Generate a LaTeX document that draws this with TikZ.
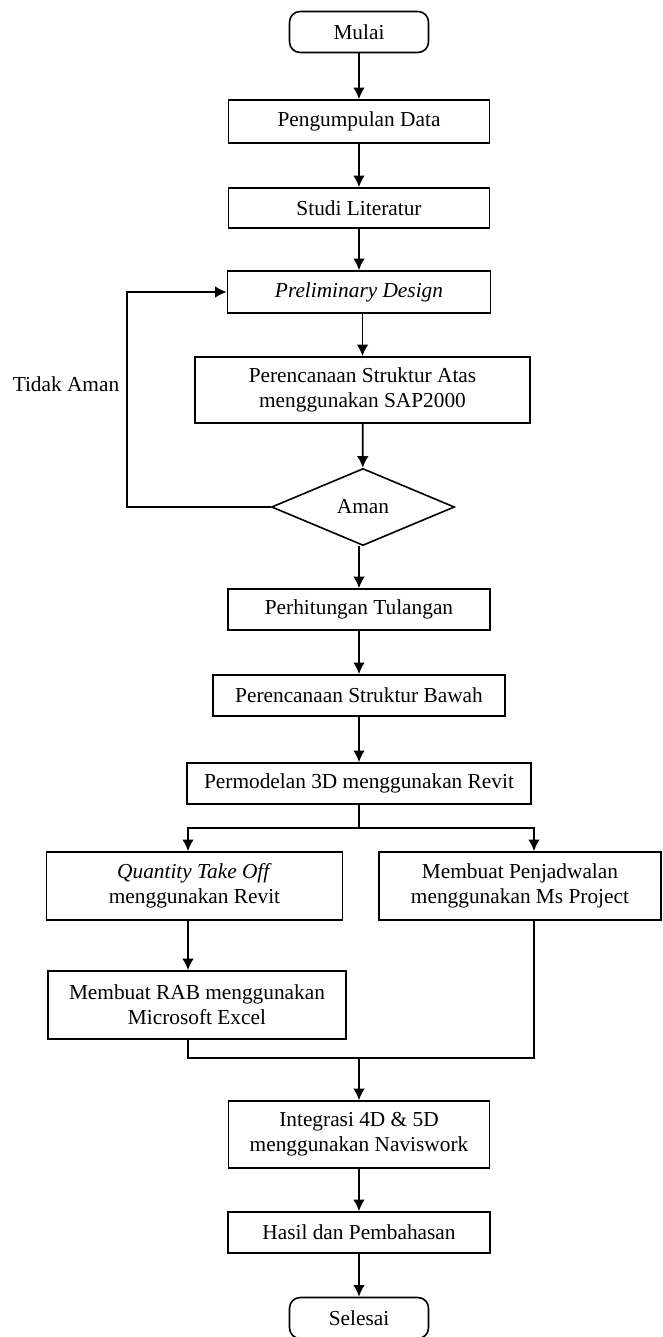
\documentclass[tikz,border=0pt]{standalone}
\usepackage{fontspec}
\setmainfont{Liberation Serif}
\usepackage{tikz}
\usetikzlibrary{arrows.meta,shapes.geometric,calc}

\tikzset{
	kotak/.style={draw,line width=0.9pt,align=center,inner sep=0pt,minimum width=#1*0.5625pt},
	kotak/.default=262,
	mulaiselesai/.style={draw,line width=0.9pt,rounded corners=6pt,inner sep=0pt,minimum width=139*0.5625pt,minimum height=41*0.5625pt},
	keputusan/.style={draw,line width=0.9pt,diamond,aspect=2.38,inner sep=0pt,minimum width=183*0.5625pt,minimum height=77*0.5625pt},
	garis/.style={line width=1pt},
	panah/.style={-{Latex[length=6.5pt,width=6.5pt]},line width=1pt}
}

\begin{document}
\begin{tikzpicture}[x=0.5625pt,y=-0.5625pt,font=\fontsize{12}{14}\selectfont]
		\useasboundingbox (0,0) rectangle (663,1337);
		\node[mulaiselesai] (mulai) at (359,32) {Mulai};
		\node[kotak=261,minimum height=43*0.5625pt] (data) at (359,121.5) {Pengumpulan Data};
		\node[kotak=261,minimum height=40*0.5625pt] (studi) at (359,208) {Studi Literatur};
		\node[kotak=263,minimum height=42*0.5625pt] (prelim) at (359,292) {\textit{Preliminary Design}};
		\node[kotak=335,minimum height=66*0.5625pt] (atas) at (362.5,390) {Perencanaan Struktur Atas\\menggunakan SAP2000};
		\node[keputusan] (aman) at (363,507) {Aman};
		\node (tidak) at (66,384) {Tidak Aman};
		\node[kotak=262,minimum height=41*0.5625pt] (tulangan) at (359,609.5) {Perhitungan Tulangan};
		\node[kotak=292,minimum height=41*0.5625pt] (bawah) at (359,695.5) {Perencanaan Struktur Bawah};
		\node[kotak=344,minimum height=41*0.5625pt] (model) at (359,783.5) {Permodelan 3D menggunakan Revit};
		\node[kotak=296,minimum height=68*0.5625pt] (qto) at (194.5,886) {\textit{Quantity Take Off}\\menggunakan Revit};
		\node[kotak=282,minimum height=68*0.5625pt] (jadwal) at (520,886) {Membuat Penjadwalan\\menggunakan Ms Project};
		\node[kotak=298,minimum height=68*0.5625pt] (rab) at (197,1005) {Membuat RAB menggunakan\\Microsoft Excel};
		\node[kotak=261,minimum height=67*0.5625pt] (integrasi) at (359,1134.5) {Integrasi 4D \& 5D\\menggunakan Naviswork};
		\node[kotak=262,minimum height=41*0.5625pt] (hasil) at (359,1232.5) {Hasil dan Pembahasan};
		\node[mulaiselesai] (selesai) at (359,1318) {Selesai};
		\coordinate (cabang) at (359,828);
		\coordinate (kiri) at (188,828);
		\coordinate (kanan) at (534,828);
		\coordinate (gabung) at (359,1058);
		\coordinate (balik) at (127,507);
		\draw[panah] (mulai) -- (data);
		\draw[panah] (data) -- (studi);
		\draw[panah] (studi) -- (prelim);
		\draw[panah] (prelim.south -| atas) -- (atas);
		\draw[panah] (atas) -- (aman);
		\draw[panah] (aman.west) -- (balik) |- (prelim.west);
		\draw[panah] (aman.south -| tulangan) -- (tulangan);
		\draw[panah] (tulangan) -- (bawah);
		\draw[panah] (bawah) -- (model);
		\draw[garis] (model) -- (cabang);
		\draw[panah] (cabang) -- (kiri) -- (kiri |- qto.north);
		\draw[panah] (cabang) -- (kanan) -- (kanan |- jadwal.north);
		\draw[panah] (qto.south -| kiri) -- (rab.north -| kiri);
		\draw[garis] (rab.south -| kiri) |- (gabung) -| (jadwal.south -| kanan);
		\draw[panah] (gabung) -- (integrasi);
		\draw[panah] (integrasi) -- (hasil);
		\draw[panah] (hasil) -- (selesai);
	\end{tikzpicture}
\end{document}
